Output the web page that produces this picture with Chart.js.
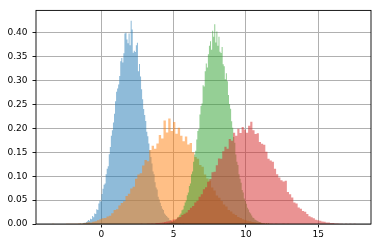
<!DOCTYPE html>
<html>
<head>
<meta charset="utf-8">
<script src="https://cdn.jsdelivr.net/npm/chart.js@4"></script>
<style>
  html, body { margin: 0; padding: 0; background: #fff; }
</style>
</head>
<body>
<canvas id="hist" width="378" height="248"></canvas>
<script>
'use strict';

// four overlapping histograms (density), 100 bins each, alpha 0.5
const blueRange = [-1.5, 5.7];
const blueHeights = [
  0.0014, 0, 0, 0.0014, 0.0028, 0.0014, 0.0042, 0.0056, 0.0083, 0.0069,
  0.0111, 0.0097, 0.0167, 0.0139, 0.0222, 0.0208, 0.0306, 0.0292, 0.0431, 0.0486,
  0.0472, 0.0625, 0.0736, 0.0819, 0.0847, 0.1042, 0.1153, 0.1208, 0.1458, 0.1611,
  0.1847, 0.1958, 0.2125, 0.2306, 0.2569, 0.2764, 0.2833, 0.2917, 0.3097, 0.3403,
  0.3472, 0.3375, 0.3569, 0.3986, 0.4000, 0.3861, 0.3778, 0.3986, 0.3736, 0.4250,
  0.4069, 0.3583, 0.3625, 0.3597, 0.3736, 0.3792, 0.3194, 0.3347, 0.3083, 0.2819,
  0.2611, 0.2403, 0.2278, 0.2153, 0.1931, 0.1833, 0.1681, 0.1542, 0.1403, 0.1264,
  0.1097, 0.1042, 0.0875, 0.0764, 0.0722, 0.0569, 0.0514, 0.0444, 0.0375, 0.0319,
  0.0292, 0.0222, 0.0194, 0.0167, 0.0139, 0.0125, 0.0083, 0.0083, 0.0056, 0.0042,
  0.0042, 0.0028, 0.0028, 0.0014, 0.0014, 0, 0.0014, 0, 0, 0.0014
];

const orangeRange = [-3.42, 13.0];
const orangeHeights = [
  0.0006, 0, 0, 0, 0, 0, 0.0006, 0.0006, 0.0006, 0.0006,
  0.0006, 0.0012, 0.0012, 0.0018, 0.0024, 0.0037, 0.0030, 0.0049, 0.0055, 0.0079,
  0.0098, 0.0122, 0.0128, 0.0159, 0.0171, 0.0226, 0.0293, 0.0311, 0.0385, 0.0439,
  0.0476, 0.0586, 0.0634, 0.0744, 0.0781, 0.0946, 0.1037, 0.1061, 0.1226, 0.1341,
  0.1311, 0.1549, 0.1635, 0.1573, 0.1683, 0.1860, 0.1787, 0.2166, 0.1915, 0.2208,
  0.1946, 0.2135, 0.1885, 0.2013, 0.1848, 0.1732, 0.1830, 0.1665, 0.1695, 0.1500,
  0.1403, 0.1366, 0.1232, 0.1195, 0.1037, 0.0951, 0.0903, 0.0762, 0.0702, 0.0598,
  0.0549, 0.0482, 0.0409, 0.0366, 0.0293, 0.0262, 0.0214, 0.0189, 0.0146, 0.0128,
  0.0098, 0.0085, 0.0067, 0.0055, 0.0043, 0.0037, 0.0024, 0.0024, 0.0018, 0.0012,
  0.0012, 0.0006, 0.0006, 0, 0.0006, 0, 0, 0.0006, 0, 0.0006
];

const greenRange = [4.3, 11.6];
const greenHeights = [
  0.0014, 0, 0, 0.0014, 0.0014, 0.0027, 0.0027, 0.0041, 0.0041, 0.0068,
  0.0068, 0.0082, 0.0110, 0.0137, 0.0151, 0.0192, 0.0219, 0.0288, 0.0301, 0.0384,
  0.0452, 0.0493, 0.0603, 0.0658, 0.0795, 0.0849, 0.1041, 0.1096, 0.1301, 0.1452,
  0.1534, 0.1767, 0.1945, 0.1986, 0.2288, 0.2466, 0.2521, 0.2904, 0.2877, 0.3192,
  0.3356, 0.3274, 0.3548, 0.3726, 0.3822, 0.3644, 0.4041, 0.3918, 0.4178, 0.3795,
  0.4027, 0.3726, 0.3918, 0.3603, 0.3576, 0.3699, 0.3342, 0.3301, 0.3027, 0.3151,
  0.2986, 0.2699, 0.2507, 0.2411, 0.2151, 0.2014, 0.1822, 0.1699, 0.1452, 0.1301,
  0.1233, 0.1041, 0.0945, 0.0863, 0.0712, 0.0658, 0.0534, 0.0479, 0.0425, 0.0342,
  0.0301, 0.0247, 0.0219, 0.0178, 0.0137, 0.0123, 0.0096, 0.0082, 0.0068, 0.0055,
  0.0041, 0.0041, 0.0027, 0.0014, 0.0014, 0.0014, 0, 0.0014, 0, 0.0014
];

const redRange = [2.7, 17.59];
const redHeights = [
  0.0007, 0, 0, 0.0007, 0.0007, 0.0013, 0.0007, 0.0020, 0.0020, 0.0027,
  0.0033, 0.0040, 0.0053, 0.0060, 0.0073, 0.0094, 0.0100, 0.0134, 0.0147, 0.0187,
  0.0214, 0.0240, 0.0294, 0.0341, 0.0374, 0.0448, 0.0488, 0.0568, 0.0621, 0.0728,
  0.0768, 0.0882, 0.0942, 0.1082, 0.1095, 0.1229, 0.1369, 0.1362, 0.1523, 0.1616,
  0.1576, 0.1776, 0.1743, 0.1910, 0.1843, 0.1990, 0.1903, 0.2030, 0.1977, 0.1910,
  0.2057, 0.2137, 0.1963, 0.1883, 0.1896, 0.1716, 0.1676, 0.1656, 0.1509, 0.1362,
  0.1329, 0.1302, 0.1155, 0.1042, 0.0975, 0.0915, 0.0888, 0.0902, 0.0668, 0.0621,
  0.0554, 0.0448, 0.0427, 0.0347, 0.0321, 0.0274, 0.0254, 0.0207, 0.0160, 0.0140,
  0.0120, 0.0087, 0.0080, 0.0067, 0.0053, 0.0047, 0.0033, 0.0033, 0.0020, 0.0020,
  0.0013, 0.0013, 0.0007, 0.0007, 0, 0.0007, 0, 0.0007, 0, 0.0007
];

const xTicks = [0, 5, 10, 15];
const yTicks = [0, 0.05, 0.10, 0.15, 0.20, 0.25, 0.30, 0.35, 0.40];

// equal-width bins over the range -> step outline points at the left bin edges
function histSteps(range, heights) {
  const n = heights.length;
  const w = (range[1] - range[0]) / n;
  const pts = heights.map((h, i) => ({ x: range[0] + i * w, y: h }));
  pts.push({ x: range[1], y: heights[n - 1] });
  return pts;
}

function histSet(range, heights, rgb, order) {
  return {
    data: histSteps(range, heights),
    stepped: true,
    fill: 'origin',
    backgroundColor: `rgba(${rgb},0.5)`,
    borderColor: 'rgba(0,0,0,0)',
    borderWidth: 0,
    pointRadius: 0,
    order,
  };
}

// black frame round the axes, as matplotlib spines
const frame = {
  id: 'frame',
  afterDraw(chart) {
    const { ctx, chartArea: a } = chart;
    ctx.save();
    ctx.strokeStyle = '#000';
    ctx.lineWidth = 0.9;
    ctx.strokeRect(a.left, a.top, a.right - a.left, a.bottom - a.top);
    ctx.restore();
  },
};

const tickFont = { family: 'DejaVu Sans', size: 9 };

new Chart(document.getElementById('hist'), {
  type: 'line',
  data: {
    datasets: [
      histSet(blueRange, blueHeights, '31,119,180', 4),
      histSet(orangeRange, orangeHeights, '255,127,14', 3),
      histSet(greenRange, greenHeights, '44,160,44', 2),
      histSet(redRange, redHeights, '214,39,40', 1),
    ],
  },
  options: {
    responsive: false,
    animation: false,
    layout: { padding: { top: 6, right: 7, left: 0, bottom: 0 } },
    plugins: { legend: { display: false }, tooltip: { enabled: false } },
    scales: {
      x: {
        type: 'linear',
        min: -4.514,
        max: 18.64,
        z: 1,
        afterFit: s => { s.height = 24; },
        afterBuildTicks: s => { s.ticks = xTicks.map(v => ({ value: v })); },
        grid: { color: '#b0b0b0', lineWidth: 1, tickColor: '#000', tickLength: 3.5, tickWidth: 0.9 },
        border: { display: false },
        ticks: { font: tickFont, color: '#000', padding: 2, maxRotation: 0, callback: v => String(v) },
      },
      y: {
        min: 0,
        max: 0.4467,
        z: 1,
        afterFit: s => { s.width = 36; },
        afterBuildTicks: s => { s.ticks = yTicks.map(v => ({ value: v })); },
        grid: { color: '#b0b0b0', lineWidth: 1, tickColor: '#000', tickLength: 3.5, tickWidth: 0.9 },
        border: { display: false },
        ticks: { font: tickFont, color: '#000', padding: 5, callback: v => v.toFixed(2) },
      },
    },
  },
  plugins: [frame],
});
</script>
</body>
</html>
